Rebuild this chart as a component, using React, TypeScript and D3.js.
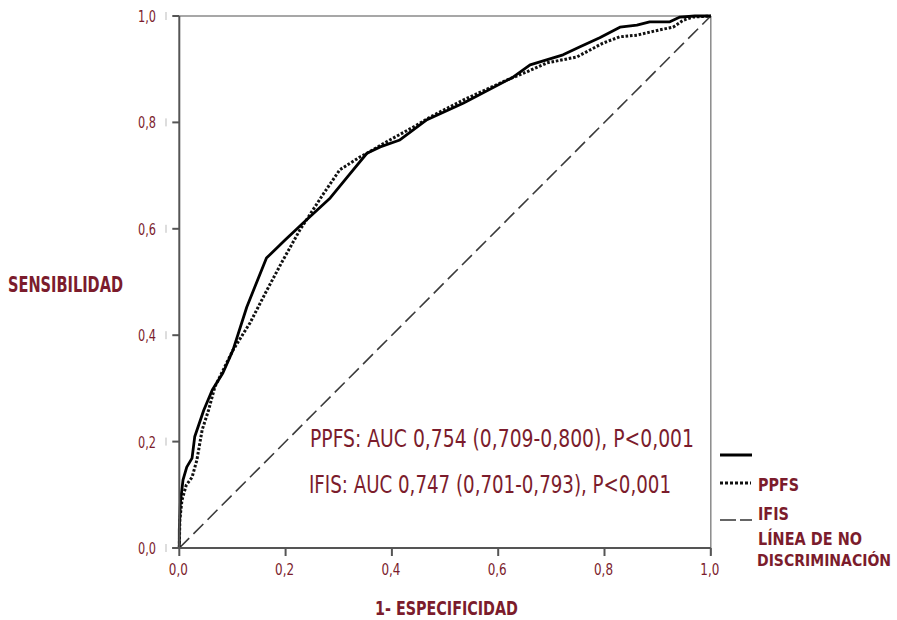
import React from "react";
import * as d3 from "d3";

const fprSolid = [0, 0.0, 0.002, 0.007, 0.014, 0.024, 0.029, 0.046, 0.062, 0.082, 0.101, 0.127, 0.164, 0.199, 0.233, 0.284, 0.316, 0.353, 0.378, 0.415, 0.466, 0.534, 0.628, 0.66, 0.722, 0.754, 0.791, 0.829, 0.861, 0.885, 0.923, 0.942, 0.97, 1];
const tprSolid = [0, 0.034, 0.085, 0.128, 0.152, 0.169, 0.209, 0.259, 0.297, 0.329, 0.372, 0.453, 0.545, 0.579, 0.611, 0.658, 0.697, 0.742, 0.754, 0.767, 0.805, 0.836, 0.885, 0.908, 0.927, 0.942, 0.959, 0.979, 0.983, 0.989, 0.989, 0.998, 1, 1];

const fprDotted = [0, 0.001, 0.005, 0.013, 0.024, 0.033, 0.043, 0.055, 0.067, 0.101, 0.133, 0.165, 0.195, 0.227, 0.27, 0.302, 0.34, 0.353, 0.396, 0.44, 0.472, 0.534, 0.617, 0.654, 0.692, 0.748, 0.797, 0.829, 0.861, 0.904, 0.929, 0.948, 0.966, 1];
const tprDotted = [0, 0.053, 0.09, 0.118, 0.133, 0.165, 0.222, 0.259, 0.303, 0.372, 0.423, 0.485, 0.541, 0.598, 0.664, 0.711, 0.735, 0.742, 0.767, 0.791, 0.81, 0.842, 0.88, 0.895, 0.912, 0.923, 0.949, 0.961, 0.964, 0.974, 0.979, 0.992, 0.998, 1];

const tickValues = [0, 0.2, 0.4, 0.6, 0.8, 1.0];
const tickLabels = ["0,0", "0,2", "0,4", "0,6", "0,8", "1,0"];

const yTitle = "SENSIBILIDAD";
const xTitle = "1- ESPECIFICIDAD";
const aucLines = ["PPFS: AUC 0,754 (0,709-0,800), P<0,001", "IFIS: AUC 0,747 (0,701-0,793), P<0,001"];
const legendLabels = ["PPFS", "IFIS", "LÍNEA DE NO", "DISCRIMINACIÓN"];

const MAROON = "#7b1c2c";
const FONT = "'Liberation Sans Narrow', 'DejaVu Sans Condensed', Roboto, 'Liberation Sans', sans-serif";

export default function App() {
  const x = d3.scaleLinear().domain([0, 1]).range([179.3, 710.8]);
  const y = d3.scaleLinear().domain([0, 1]).range([548, 16]);
  const line = d3.line<[number, number]>().x((d) => x(d[0])).y((d) => y(d[1]));
  const solidPts = fprSolid.map((f, i) => [f, tprSolid[i]] as [number, number]);
  const dottedPts = fprDotted.map((f, i) => [f, tprDotted[i]] as [number, number]);

  return (
    <div style={{ position: "absolute", left: 0, top: 0 }}>
      <svg width={897} height={620} style={{ display: "block", background: "#fff" }}>
        <line x1={x(0)} x2={x(1)} y1={y(1)} y2={y(1)} stroke="#8a8a8a" strokeWidth={1.5} />
        <line x1={x(1)} x2={x(1)} y1={y(1)} y2={y(0) + 7} stroke="#8a8a8a" strokeWidth={1.5} />
        <line x1={x(0)} y1={y(0)} x2={x(1)} y2={y(1)} stroke="#3a3a3a" strokeWidth={1.6} strokeDasharray="14 6" />
        <path d={line(dottedPts) || ""} fill="none" stroke="#111" strokeWidth={3} strokeDasharray="2.6 1.8" />
        <path d={line(solidPts) || ""} fill="none" stroke="#000" strokeWidth={2.8} strokeLinejoin="round" />
        <line x1={x(0)} x2={x(0)} y1={y(1)} y2={y(0)} stroke="#555" strokeWidth={2} />
        <line x1={x(0) - 7} x2={x(1)} y1={y(0)} y2={y(0)} stroke="#555" strokeWidth={2} />
        {tickValues.map((v, i) => (
          <g key={"yt" + i}>
            <line x1={x(0) - 7} x2={x(0)} y1={y(v)} y2={y(v)} stroke="#555" strokeWidth={2} />
            <line x1={166} x2={166} y1={y(v) - 4} y2={y(v) + 4} stroke="#bbb" strokeWidth={1} />
            <text x={156} y={y(v) + 6} textAnchor="end" fontFamily={FONT} fontSize={16} fill={MAROON} textLength={18} lengthAdjust="spacingAndGlyphs">
              {tickLabels[i]}
            </text>
          </g>
        ))}
        {tickValues.map((v, i) => (
          <g key={"xt" + i}>
            <line x1={x(v)} x2={x(v)} y1={y(0)} y2={y(0) + 8} stroke="#555" strokeWidth={2} />
            <text x={x(v) - 1} y={575} textAnchor="middle" fontFamily={FONT} fontSize={16} fill={MAROON} textLength={19} lengthAdjust="spacingAndGlyphs">
              {tickLabels[i]}
            </text>
          </g>
        ))}
        <text x={8} y={292} fontFamily={FONT} fontWeight="bold" fontSize={21} fill={MAROON} textLength={115} lengthAdjust="spacingAndGlyphs">
          {yTitle}
        </text>
        <text x={375} y={615} fontFamily={FONT} fontWeight="bold" fontSize={20} fill={MAROON} textLength={143} lengthAdjust="spacingAndGlyphs">
          {xTitle}
        </text>
        <text x={310} y={447} fontFamily={FONT} fontSize={25} fill={MAROON} textLength={384} lengthAdjust="spacingAndGlyphs">
          {aucLines[0]}
        </text>
        <text x={309} y={493} fontFamily={FONT} fontSize={25} fill={MAROON} textLength={362} lengthAdjust="spacingAndGlyphs">
          {aucLines[1]}
        </text>
        <line x1={720} x2={752} y1={455} y2={455} stroke="#000" strokeWidth={3} />
        <line x1={720} x2={751} y1={483} y2={483} stroke="#111" strokeWidth={3} strokeDasharray="3 2" />
        <line x1={720} x2={752} y1={520} y2={520} stroke="#333" strokeWidth={1.5} strokeDasharray="16 4" />
        <text x={758} y={491} fontFamily={FONT} fontWeight="bold" fontSize={18} fill={MAROON} textLength={41} lengthAdjust="spacingAndGlyphs">{legendLabels[0]}</text>
        <text x={758} y={520} fontFamily={FONT} fontWeight="bold" fontSize={18} fill={MAROON} textLength={31} lengthAdjust="spacingAndGlyphs">{legendLabels[1]}</text>
        <text x={758} y={545} fontFamily={FONT} fontWeight="bold" fontSize={18} fill={MAROON} textLength={104} lengthAdjust="spacingAndGlyphs">{legendLabels[2]}</text>
        <text x={757} y={566} fontFamily={FONT} fontWeight="bold" fontSize={16} fill={MAROON} textLength={134} lengthAdjust="spacingAndGlyphs">{legendLabels[3]}</text>
      </svg>
    </div>
  );
}
